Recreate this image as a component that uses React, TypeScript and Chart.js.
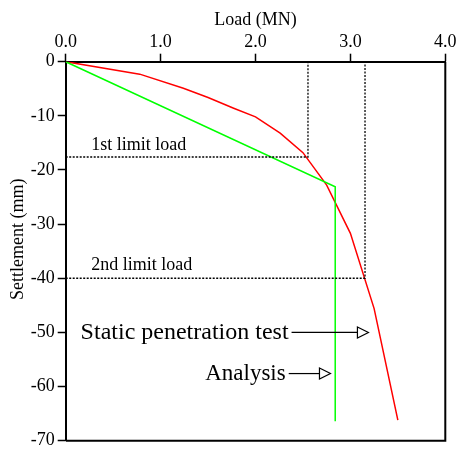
import React, { useEffect, useRef } from "react";
import { Chart, registerables } from "chart.js";

Chart.register(...registerables);

// Static penetration test (load MN, settlement mm)
const testLoad = [0, 0.78, 1.24, 1.5, 1.77, 2.0, 2.26, 2.5, 2.75, 3.0, 3.25, 3.5];
const testSettlement = [0, -2.3, -4.9, -6.6, -8.6, -10.2, -13.2, -16.8, -22.8, -31.7, -45.6, -66.2];

// Analysis
const analysisLoad = [0, 2.84, 2.84];
const analysisSettlement = [0, -23.1, -66.4];

// Limit loads
const limit1Load = [0, 2.553, 2.553];
const limit1Settlement = [-17.6, -17.6, 0];
const limit2Load = [0, 3.154, 3.154];
const limit2Settlement = [-40, -40, 0];

const xTicks = [0, 1, 2, 3, 4];
const yTicks = [0, -10, -20, -30, -40, -50, -60, -70];

const xTitle = "Load (MN)";
const yTitle = "Settlement (mm)";
const limit1Label = "1st limit load";
const limit2Label = "2nd limit load";
const staticLabel = "Static penetration test";
const analysisLabel = "Analysis";

// annotation anchors in data units
const staticArrow = { y: -50, x0: 2.38, x1: 3.19 };
const analysisArrow = { y: -57.6, x0: 2.35, x1: 2.79 };
const limitLabelX = 0.27;

const FONT = "'Liberation Serif', 'Times New Roman', serif";

const toPts = (xs: number[], ys: number[]) => xs.map((x, i) => ({ x, y: ys[i] }));

const zeroPad = (s: any) => {
  s.paddingTop = 0;
  s.paddingBottom = 0;
  s.paddingLeft = 0;
  s.paddingRight = 0;
};

export default function App() {
  const ref = useRef<HTMLCanvasElement | null>(null);

  useEffect(() => {
    document.body.style.margin = "0";
    const canvas = ref.current;
    if (!canvas) return;

    const annot = {
      id: "annot",
      afterDraw(chart: any) {
        const ctx = chart.ctx as CanvasRenderingContext2D;
        const a = chart.chartArea;
        const xs = chart.scales.x;
        const ys = chart.scales.y;
        ctx.save();
        // frame right and bottom
        ctx.strokeStyle = "#000";
        ctx.lineWidth = 2;
        ctx.beginPath();
        ctx.moveTo(a.right, a.top);
        ctx.lineTo(a.right, a.bottom);
        ctx.lineTo(a.left, a.bottom);
        ctx.stroke();

        ctx.fillStyle = "#000";
        // titles
        ctx.font = `18px ${FONT}`;
        ctx.textAlign = "center";
        ctx.textBaseline = "alphabetic";
        ctx.fillText(xTitle, (a.left + a.right) / 2, a.top - 37);
        ctx.save();
        ctx.translate(a.left - 43, (a.top + a.bottom) / 2 - 12);
        ctx.rotate(-Math.PI / 2);
        ctx.fillText(yTitle, 0, 0);
        ctx.restore();

        // limit labels
        ctx.textAlign = "left";
        ctx.fillText(limit1Label, xs.getPixelForValue(limitLabelX), ys.getPixelForValue(limit1Settlement[0]) - 7);
        ctx.fillText(limit2Label, xs.getPixelForValue(limitLabelX), ys.getPixelForValue(limit2Settlement[0]) - 8);

        const arrow = (ar: { y: number; x0: number; x1: number }, label: string, size: number) => {
          const y = ys.getPixelForValue(ar.y);
          const x0 = xs.getPixelForValue(ar.x0);
          const x1 = xs.getPixelForValue(ar.x1);
          ctx.font = `${size}px ${FONT}`;
          ctx.textAlign = "right";
          ctx.textBaseline = "middle";
          ctx.fillText(label, x0 - 3, y);
          ctx.lineWidth = 1.2;
          ctx.beginPath();
          ctx.moveTo(x0, y);
          ctx.lineTo(x1 - 11, y);
          ctx.stroke();
          ctx.beginPath();
          ctx.moveTo(x1 - 11, y - 5.5);
          ctx.lineTo(x1, y);
          ctx.lineTo(x1 - 11, y + 5.5);
          ctx.closePath();
          ctx.fillStyle = "#fff";
          ctx.fill();
          ctx.stroke();
          ctx.fillStyle = "#000";
        };
        arrow(staticArrow, staticLabel, 24);
        arrow(analysisArrow, analysisLabel, 23);
        ctx.restore();
      },
    };

    const chart = new Chart(canvas, {
      type: "scatter",
      data: {
        datasets: [
          {
            data: toPts(limit1Load, limit1Settlement),
            showLine: true,
            borderColor: "#000",
            borderWidth: 1.3,
            borderDash: [2, 1.5],
            pointRadius: 0,
          },
          {
            data: toPts(limit2Load, limit2Settlement),
            showLine: true,
            borderColor: "#000",
            borderWidth: 1.3,
            borderDash: [2, 1.5],
            pointRadius: 0,
          },
          {
            data: toPts(analysisLoad, analysisSettlement),
            showLine: true,
            borderColor: "#00ff00",
            borderWidth: 1.5,
            pointRadius: 0,
          },
          {
            data: toPts(testLoad, testSettlement),
            showLine: true,
            borderColor: "#ff0000",
            borderWidth: 1.5,
            pointRadius: 0,
          },
        ],
      },
      options: {
        animation: false,
        responsive: false,
        devicePixelRatio: 1,
        layout: { padding: { left: 0, top: 0, right: 12.7, bottom: 9.3 } },
        plugins: { legend: { display: false }, tooltip: { enabled: false } },
        scales: {
          x: {
            type: "linear",
            position: "top",
            min: 0,
            max: 4,
            afterFit: (s: any) => {
              s.height = 61.7;
              zeroPad(s);
            },
            afterBuildTicks: (s: any) => {
              s.ticks = xTicks.map((v) => ({ value: v }));
            },
            ticks: {
              color: "#000",
              font: { family: FONT, size: 18 },
              padding: 1,
              maxRotation: 0,
              callback: (v: any) => Number(v).toFixed(1),
            },
            grid: { drawOnChartArea: false, drawTicks: true, tickLength: 8, tickWidth: 1.5, tickColor: "#000" },
            border: { display: true, color: "#000", width: 2 },
          },
          y: {
            type: "linear",
            min: -70,
            max: 0,
            afterFit: (s: any) => {
              s.width = 65.7;
              zeroPad(s);
            },
            afterBuildTicks: (s: any) => {
              s.ticks = yTicks.map((v) => ({ value: v }));
            },
            ticks: {
              color: "#000",
              font: { family: FONT, size: 18 },
              padding: 3,
              callback: (v: any) => String(v),
            },
            grid: { drawOnChartArea: false, drawTicks: true, tickLength: 8, tickWidth: 1.5, tickColor: "#000" },
            border: { display: true, color: "#000", width: 2 },
          },
        },
      },
      plugins: [annot],
    } as any);

    return () => chart.destroy();
  }, []);

  return <canvas ref={ref} width={458} height={450} style={{ display: "block" }} />;
}
